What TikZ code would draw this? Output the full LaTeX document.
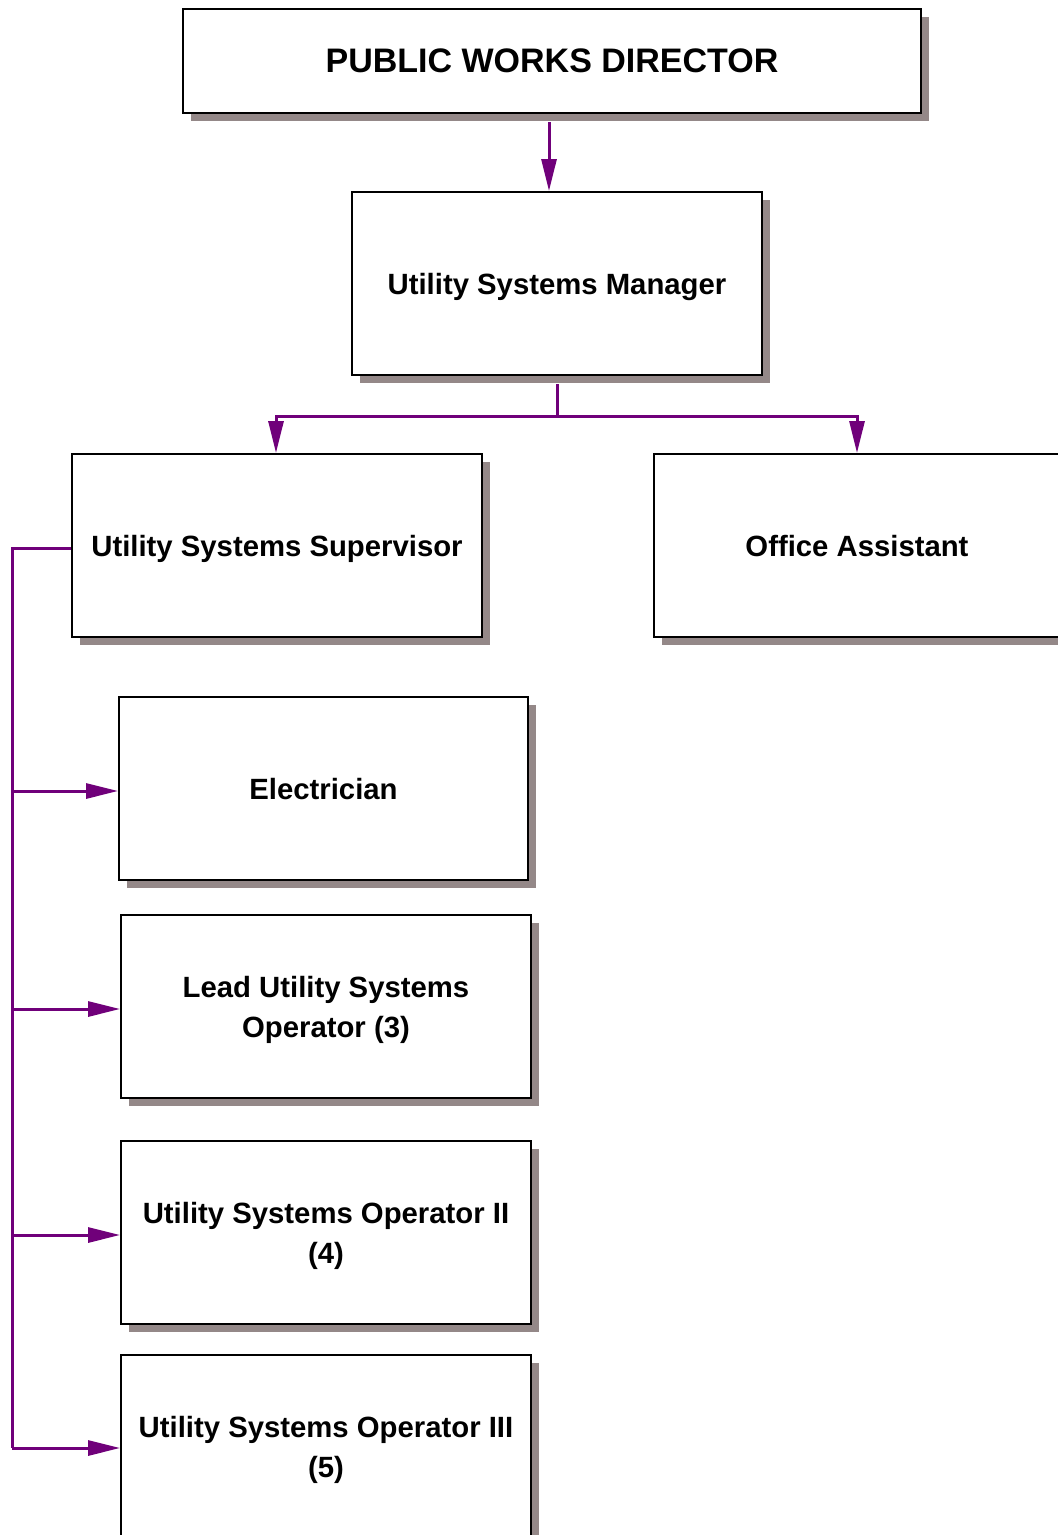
\documentclass[tikz,border=0pt]{standalone}
\usepackage{fontspec}
\setmainfont{Liberation Sans}
\usetikzlibrary{arrows.meta,shadows}
\definecolor{linkpurple}{RGB}{112,0,122}
\definecolor{shadowgray}{RGB}{148,136,136}

\tikzset{
  post/.style={draw=black, line width=2pt, fill=white, align=center,
    minimum width=410pt, minimum height=183pt, inner sep=0pt, text depth=0pt,
    font=\fontsize{29.3}{40}\selectfont\bfseries,
    drop shadow={shadow xshift=8pt, shadow yshift=-8pt, fill=shadowgray, opacity=1}},
  link/.style={draw=linkpurple, line width=3pt},
  arr/.style={link, -{Triangle[length=32pt,width=15pt]}}
}

\begin{document}
\begin{tikzpicture}[x=1pt,y=-1pt]
  \useasboundingbox (0,0) rectangle (1058,1535);
  \begin{scope}
  \clip (0,0) rectangle (1058,1535);
  % top of the chart
  \node[post, minimum width=738pt, minimum height=104pt,
        font=\fontsize{34}{40}\selectfont\bfseries] (dir) at (552,61) {PUBLIC WORKS DIRECTOR};
  \node[post] (mgr) at (557,283.5) {Utility Systems Manager};
  \node[post] (sup) at (277,545.5) {Utility Systems Supervisor};
  \node[post, minimum width=406pt] (off) at (857,545.5) {Office Assistant};
  % staff under the supervisor
  \node[post, minimum width=409pt] (elec) at (323.5,788.5) {Electrician};
  \node[post] (lead) at (326,1006.5) {Lead Utility Systems\\Operator (3)};
  \node[post] (optwo) at (326,1232.5) {Utility Systems Operator II\\(4)};
  \node[post, minimum height=184pt] (opthree) at (326,1447) {Utility Systems Operator III\\(5)};

  \coordinate (split) at (557,416);
  \coordinate (bus) at (12,548);

  \draw[arr] ([xshift=-3pt,yshift=-8pt]dir.south) -- ([xshift=-8pt]mgr.north);
  \draw[link] ([yshift=-8pt]mgr.south) -- (split);
  \draw[arr] (split) -| ([xshift=-1pt]sup.north);
  \draw[arr] (split) -| (off.north);
  \draw[link] (sup.west |- bus) -- (bus) -- (bus |- 0,1448);
  \foreach \n/\y in {elec/791, lead/1009, optwo/1235, opthree/1448}
    \draw[arr] (bus |- 0,\y) -- (\n.west |- 0,\y);
  \end{scope}
\end{tikzpicture}
\end{document}
